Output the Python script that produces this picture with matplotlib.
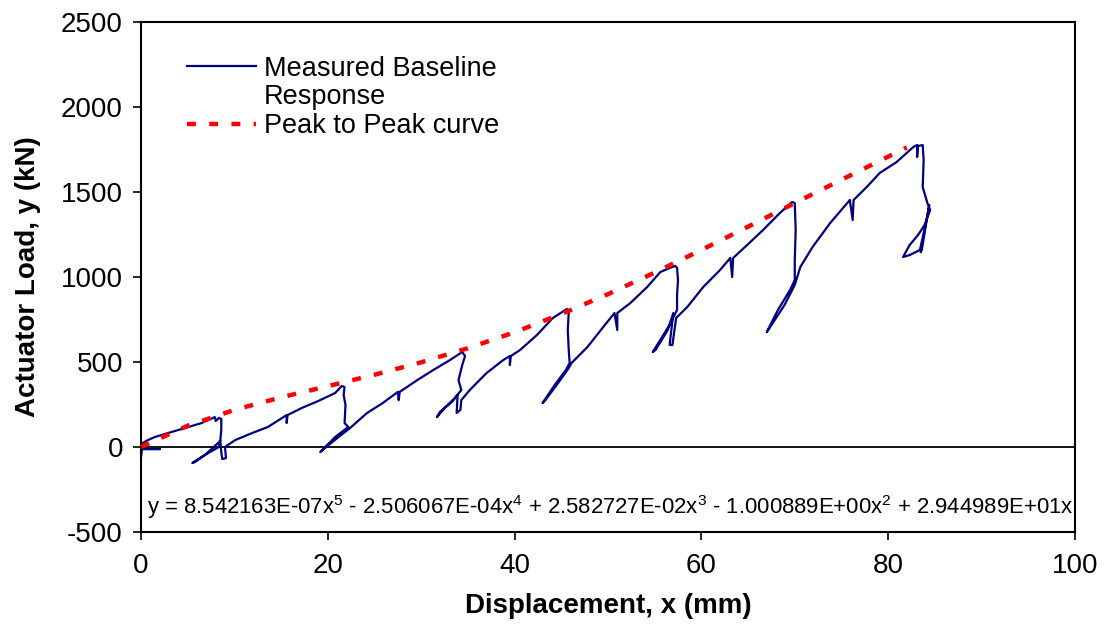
import matplotlib
matplotlib.use("Agg")
import matplotlib.pyplot as plt
from matplotlib.lines import Line2D

plt.rcParams['font.family'] = ['Liberation Sans', 'DejaVu Sans']
plt.rcParams['mathtext.fontset'] = 'custom'
plt.rcParams['mathtext.rm'] = 'Liberation Sans'
plt.rcParams['mathtext.it'] = 'Liberation Sans'
plt.rcParams['axes.unicode_minus'] = False

meas_x = [0.0, 0.0, 0.1, 2.0, 0.1, 0.2, 0.75, 1.5, 2.9, 4.7, 6.5, 7.7, 7.9,
          8.0, 8.35, 8.6, 8.6, 8.5, 8.35, 7.4, 6.3, 5.5, 5.8, 6.85, 7.9, 8.5,
          8.6, 8.7, 9.1, 9.0,
          10.1, 11.9, 13.6, 15.6, 15.6, 15.7, 17.2, 19.0, 20.8, 21.5, 21.8,
          21.7, 21.9, 21.8, 22.2, 20.8, 19.2, 19.7, 21.3, 22.4,
          24.2, 25.9, 27.5, 27.6, 27.7, 29.6, 31.3, 33.1, 34.4, 34.7,
          34.4, 34.0, 34.3, 33.6, 32.5, 31.7, 32.0, 33.3, 33.9, 33.8, 34.2, 34.3,
          35.2, 37.0, 38.8, 39.5, 39.5, 39.6, 40.6, 42.4, 44.1, 45.6, 45.8,
          45.7, 45.8, 45.9, 45.5, 44.3, 43.0, 43.3, 44.9, 45.8,
          46.1, 47.8, 49.5, 50.7, 51.0, 51.0, 52.4, 54.2, 55.6, 56.6, 57.2, 57.4,
          57.5, 57.4, 57.4, 56.6, 55.6, 54.8, 55.1, 56.4, 57.0, 56.6, 56.9, 57.3,
          58.5, 60.2, 62.0, 63.1, 63.3, 63.4, 64.9, 66.6, 68.4, 69.7, 70.0,
          70.1, 70.0, 70.0, 69.5, 68.2, 67.0, 67.3, 68.9, 70.0,
          70.6, 71.9, 73.8, 75.9, 76.2, 76.3, 77.7, 79.1, 80.9, 82.7, 83.1, 83.1,
          83.2, 83.7, 83.8, 83.7, 84.2, 84.5, 83.9, 83.2, 82.3, 81.6, 82.3, 83.4,
          84.0, 84.4, 83.6, 83.5]
meas_y = [0, -59, -12, -12, -12, 24, 41, 59, 82, 112, 141, 171, 176,
          153, 171, 165, 100, 41, 0, -29, -65, -94, -88, -47, 6, 35,
          -29, -71, -65, 0,
          41, 82, 118, 188, 141, 188, 229, 271, 318, 359, 353,
          306, 247, 141, 118, 59, -29, -6, 65, 112,
          200, 259, 324, 276, 324, 394, 453, 512, 559, 535,
          482, 394, 335, 288, 229, 176, 206, 265, 306, 200, 218, 276,
          335, 435, 512, 535, 482, 535, 571, 659, 759, 812, 794,
          688, 571, 494, 453, 365, 259, 276, 394, 465,
          494, 588, 706, 788, 688, 788, 847, 941, 1029, 1053, 1065, 1053,
          982, 894, 806, 718, 629, 559, 571, 688, 788, 600, 600, 759,
          824, 941, 1041, 1112, 1000, 1112, 1188, 1276, 1376, 1441, 1435,
          1276, 1100, 982, 924, 806, 676, 700, 835, 953,
          1059, 1176, 1318, 1453, 1335, 1453, 1529, 1612, 1676, 1765, 1776, 1706,
          1771, 1776, 1688, 1529, 1435, 1394, 1306, 1247, 1188, 1118, 1129, 1159,
          1306, 1423, 1159, 1147]

# peak to peak curve
peak_x = [0, 5, 10, 15, 20, 25, 30, 35, 40, 45, 50, 55, 60, 65, 70, 75, 80, 82]
peak_y = [0, 125, 218, 292, 358, 425, 498, 581, 675, 782, 899, 1026, 1159,
          1296, 1435, 1572, 1708, 1762]

x_ticks = [0, 20, 40, 60, 80, 100]
y_ticks = [-500, 0, 500, 1000, 1500, 2000, 2500]
equation = ("y = 8.542163E-07x$^5$ - 2.506067E-04x$^4$ + 2.582727E-02x$^3$"
            " - 1.000889E+00x$^2$ + 2.944989E+01x")

fig = plt.figure(figsize=(11.09, 6.25), dpi=100)
ax = fig.add_axes([0.1271, 0.1488, 0.8422, 0.8160])

ax.axhline(0, color='black', lw=1.3, zorder=1)
ax.plot(meas_x, meas_y, color='#000080', lw=1.6, zorder=2)
ax.plot(peak_x, peak_y, color='#ff0000', lw=3.2, dashes=(2, 3), zorder=3)

ax.set_xlim(0, 100)
ax.set_ylim(-500, 2500)
ax.set_xticks(x_ticks)
ax.set_yticks(y_ticks)
ax.tick_params(direction='out', length=6, width=1.2, labelsize=20)
ax.tick_params(axis='y', pad=7)
ax.tick_params(axis='x', pad=9)
for s in ax.spines.values():
    s.set_linewidth(1.5)

ax.set_xlabel('Displacement, x (mm)', fontsize=20, fontweight='bold', labelpad=10)
ax.set_ylabel('Actuator Load, y (kN)', fontsize=20, fontweight='bold', labelpad=14)

ax.text(0.006, 0.049, equation, transform=ax.transAxes, fontsize=15.9,
        ha='left', va='center')

handles = [Line2D([], [], color='#000080', lw=1.6),
           Line2D([], [], color='none'),
           Line2D([], [], color='#ff0000', lw=3.2, dashes=(2, 3))]
labels = ['Measured Baseline', 'Response', 'Peak to Peak curve']
ax.legend(handles, labels, loc='upper left', bbox_to_anchor=(0.038, 0.955),
          frameon=False, fontsize=19.5, handlelength=2.55, handletextpad=0.27,
          labelspacing=0.1, borderaxespad=0)

fig.savefig('out.png', dpi=100)
